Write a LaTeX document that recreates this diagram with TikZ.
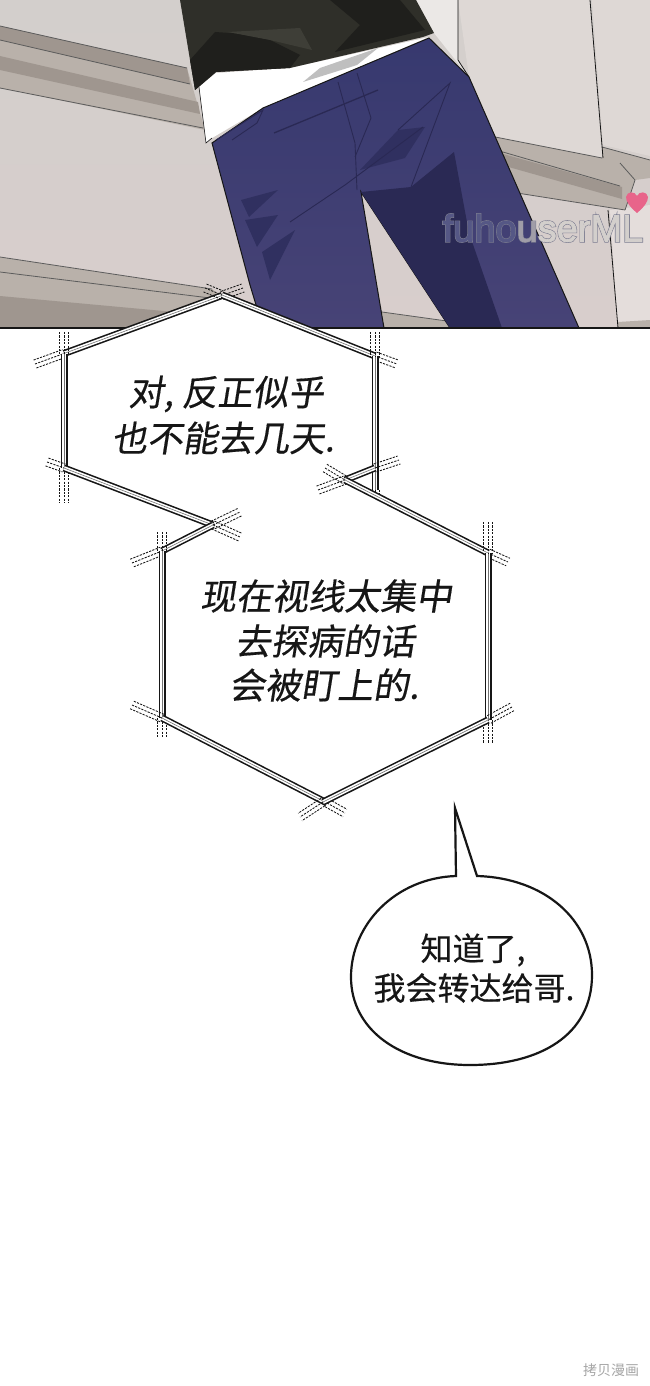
\documentclass[tikz,border=0pt]{standalone}
\usepackage{fontspec}
\usetikzlibrary{calc}
\newfontfamily\cjk[FakeBold=0.4]{Noto Sans CJK SC}
\newfontfamily\cjklight{Noto Sans CJK SC}
\newfontfamily\cjkit[FakeSlant=0.16,FakeBold=0.4]{Noto Sans CJK SC}
\newfontfamily\wmfont[FakeBold=5]{Liberation Sans}
\newfontfamily\wmfontb[FakeBold=2]{Liberation Sans}
\definecolor{wall}{HTML}{D3CFCC}
\definecolor{wallb}{HTML}{D8CECC}
\definecolor{panel}{HTML}{DED8D5}
\definecolor{railA}{HTML}{9F968F}
\definecolor{railB}{HTML}{B9B1AA}
\definecolor{jeans}{HTML}{37396F}
\definecolor{jeansb}{HTML}{474376}
\definecolor{jeansd}{HTML}{2A2954}
\definecolor{jeansm}{HTML}{303060}
\definecolor{shirt}{HTML}{2F2F29}
\definecolor{shirtd}{HTML}{1F1F1C}
\definecolor{shirtl}{HTML}{3E3E37}
\definecolor{heart}{HTML}{E8648A}
\definecolor{ink}{HTML}{161616}
\tikzset{
  edge/.style={draw=ink,line width=1pt},
  soft/.style={draw=ink!70,line width=.8pt},
  seam/.style={draw=jeansd,line width=.9pt},
  solidpart/.style={draw=ink,line width=1.6pt,double=white,double distance=3.8pt},
  dashpart/.style={draw=ink,line width=.85pt,dash pattern=on 2.2pt off 1.2pt},
  midpart/.style={draw=black!55,line width=.6pt},
  talk/.style={font=\cjkit\fontsize{#1}{#1}\selectfont,text=ink,inner sep=0pt},
  say/.style={font=\cjk\fontsize{32}{32}\selectfont,text=ink,inner sep=0pt},
}
% A, B, C, D : solid double from B to C, dashed on three tracks from A to B and from C to D
\newcommand{\hx}[4]{%
  \draw[solidpart] (#2) -- (#3);
  \draw[midpart] (#2) -- (#3);
  \foreach \o in {-4.2,0,4.2}{
    \draw[dashpart] ($(#1)!\o pt!90:(#3)$) -- ($(#2)!\o pt!90:(#3)$);
    \draw[dashpart] ($(#3)!\o pt!-90:(#2)$) -- ($(#4)!\o pt!-90:(#2)$);
  }
}
\begin{document}
\begin{tikzpicture}[x=1pt,y=-1pt]
\useasboundingbox (0,0) rectangle (650,1386);
\fill[white] (0,0) rectangle (650,1386);
% --- photo panel
\shade[top color=wall,bottom color=wallb] (0,0) rectangle (650,328);
% upper rail left
\fill[railB] (0,26) -- (187,68) -- (205,130) -- (0,88) -- cycle;
\fill[railA] (0,56) -- (198,102) -- (200,114) -- (0,70) -- cycle;
\fill[railA] (0,26) -- (187,68) -- (190,84) -- (0,40) -- cycle;
\draw[soft] (0,26) -- (187,68);
\draw[soft] (0,40) -- (190,84);
\draw[soft] (0,88) -- (203,128);
% lower rail left
\fill[railB] (0,257) -- (212,289) -- (262,328) -- (0,328) -- cycle;
\fill[railA] (0,296) -- (240,318) -- (240,328) -- (0,328) -- cycle;
\draw[soft] (0,257) -- (212,289);
\draw[soft] (0,272) -- (210,298);
% right wall panels
\fill[panel] (458,0) -- (590,0) -- (603,158) -- (485,135) -- (469,77) -- cycle;
\fill[panel] (592,0) -- (650,0) -- (650,156) -- (603,145) -- cycle;
\fill[wallb!70!white] (610,210) -- (650,205) -- (650,328) -- (618,328) -- cycle;
% right rail
\fill[railB] (485,135) -- (602,158) -- (602,147) -- (650,160) -- (650,178) -- (635,180) -- (625,210) -- (517,193) -- cycle;
\fill[railA] (496,152) -- (622,187) -- (622,199) -- (505,166) -- cycle;
\fill[railB] (382,312) -- (454,322) -- (456,328) -- (384,328) -- cycle;
\fill[railB] (618,322) -- (650,320) -- (650,328) -- (618,328) -- cycle;
\draw[soft] (485,135) -- (602,158);
\draw[soft] (602,147) -- (650,160);
\draw[soft] (496,150) -- (620,186);
\draw[soft] (620,163) -- (635,180) -- (625,210);
\draw[soft] (517,193) -- (625,210);
\draw[soft] (382,312) -- (454,322);
\draw[edge,line width=.8pt] (590,0) -- (603,158);
\draw[edge,line width=.8pt] (608,210) -- (618,328);
% arm
\fill[panel!60!white] (416,0) -- (458,0) -- (458,60) -- (469,77) -- (434,33) -- cycle;
\draw[edge,line width=.8pt] (458,0) -- (458,60) -- (469,77);
% white shirt
\fill[white] (199,87) -- (216,73) -- (290,68) -- (429,37) -- (263,108) -- (212,138) -- (206,143) -- cycle;
\draw[edge,line width=.6pt] (199,87) -- (206,143) -- (212,138);
\fill[black!25] (303,82) -- (320,68) -- (378,48) -- (357,65) -- cycle;
% black shirt
\fill[shirt] (180,0) -- (416,0) -- (434,33) -- (423,37) -- (290,68) -- (216,72) -- (195,90) -- cycle;
\fill[shirtd] (190,60) -- (215,32) -- (260,35) -- (300,55) -- (290,68) -- (216,72) -- (195,90) -- cycle;
\fill[shirtl] (228,32) -- (300,28) -- (312,50) -- (270,40) -- cycle;
\fill[shirtd] (330,0) -- (400,0) -- (425,30) -- (335,52) -- (360,25) -- cycle;
% jeans
\shade[top color=jeans,bottom color=jeansb,draw=ink,line width=1pt]
  (212,143) -- (263,108) -- (429,38) -- (469,77) -- (579,328) -- (450,328)
  -- (361,192) -- (384,328) -- (263,328) -- (250,285) -- cycle;
% shadows
\fill[jeansd] (361,192) -- (411,187) -- (454,152) -- (469,233) -- (502,328) -- (450,328) -- cycle;
\fill[jeansm] (241,200) -- (278,190) -- (249,217) -- cycle;
\fill[jeansm] (245,220) -- (278,215) -- (257,247) -- cycle;
\fill[jeansm] (262,252) -- (295,230) -- (270,280) -- cycle;
\fill[jeansm] (398,130) -- (425,127) -- (405,158) -- (360,170) -- cycle;
% seams
\draw[seam] (338,82) -- (355,143) -- (357,190);
\draw[seam] (357,73) -- (371,118) -- (355,157);
\draw[seam,line width=1.3pt] (274,133) -- (378,90);
\draw[seam] (290,222) -- (345,185) -- (423,127);
\draw[seam] (398,130) -- (450,83) -- (411,187);
\draw[seam] (216,140) -- (263,110) -- (257,123) -- (232,140);
% heart and watermark
\fill[heart] (637,213) .. controls (630,207) and (626,202) .. (626,197) .. controls (627,191) and (635,191) .. (637,196) .. controls (639,191) and (647,191) .. (648,197) .. controls (648,202) and (644,207) .. (637,213) -- cycle;
\node[inner sep=0pt,font=\fontsize{38}{38}\selectfont] (mark) at (543,228)
  {\rlap{\wmfont\color{black!38!jeans!60!white}fuhouserML}\wmfontb\textcolor{jeans!85!white}{fuho}\textcolor{jeansd!30!wall}{u}\textcolor{wall}{serML}};
% frame line of the panel
\draw[ink,line width=2pt] (0,328) -- (650,328);
% --- white inside of the first hexagon over the panel
\fill[white] (125,329) -- (222,295) -- (312,329) -- cycle;
% --- first hexagon
\hx{35,364}{64,353.5}{222,295.5}{243,288}
\hx{205,288}{222,295}{375,356}{397,364}
\hx{64,332}{64,353.5}{64,468}{64,503}
\hx{47,462}{64,468}{213,525}{240,537}
\hx{375,332}{375,356}{375,490}{375,495}
\hx{318,490}{345,480}{375,468}{399,460}
% --- second hexagon
\hx{132,563}{162,551}{213,525}{240,512}
\hx{325,468}{345,480}{488,553}{508,562}
\hx{162,532}{162,551}{162,718}{162,738}
\hx{488,522}{488,553}{488,720}{488,743}
\hx{132,705}{162,718}{327,803}{345,813}
\hx{512,707}{488,720}{323,802}{300,817}
% --- texts
\node[talk=35.5] (t1) at (226,394) {对, 反正似乎};
\node[talk=35.5] (t2) at (223,438) {也不能去几天.};
\node[talk=36] (t3) at (326,596) {现在视线太集中};
\node[talk=36] (t4) at (325,641) {去探病的话};
\node[talk=36] (t5) at (324,685) {会被盯上的.};
% --- speech bubble
\draw[ink,line width=2.2pt,fill=white]
  (456,876) -- (455,808) -- (477,876)
  .. controls (545,878) and (592,920) .. (592,975)
  .. controls (592,1035) and (540,1065) .. (470,1065)
  .. controls (400,1065) and (351,1030) .. (351,977)
  .. controls (351,925) and (395,878) .. (456,876) -- cycle;
\node[say] (b1) at (473,950) {知道了,};
\node[say] (b2) at (474,988) {我会转达给哥.};
% --- corner stamp
\node[font=\cjklight\fontsize{14}{14}\selectfont,text=black!35,inner sep=0pt] (stamp) at (611,1370) {拷贝漫画};
\end{tikzpicture}
\end{document}
